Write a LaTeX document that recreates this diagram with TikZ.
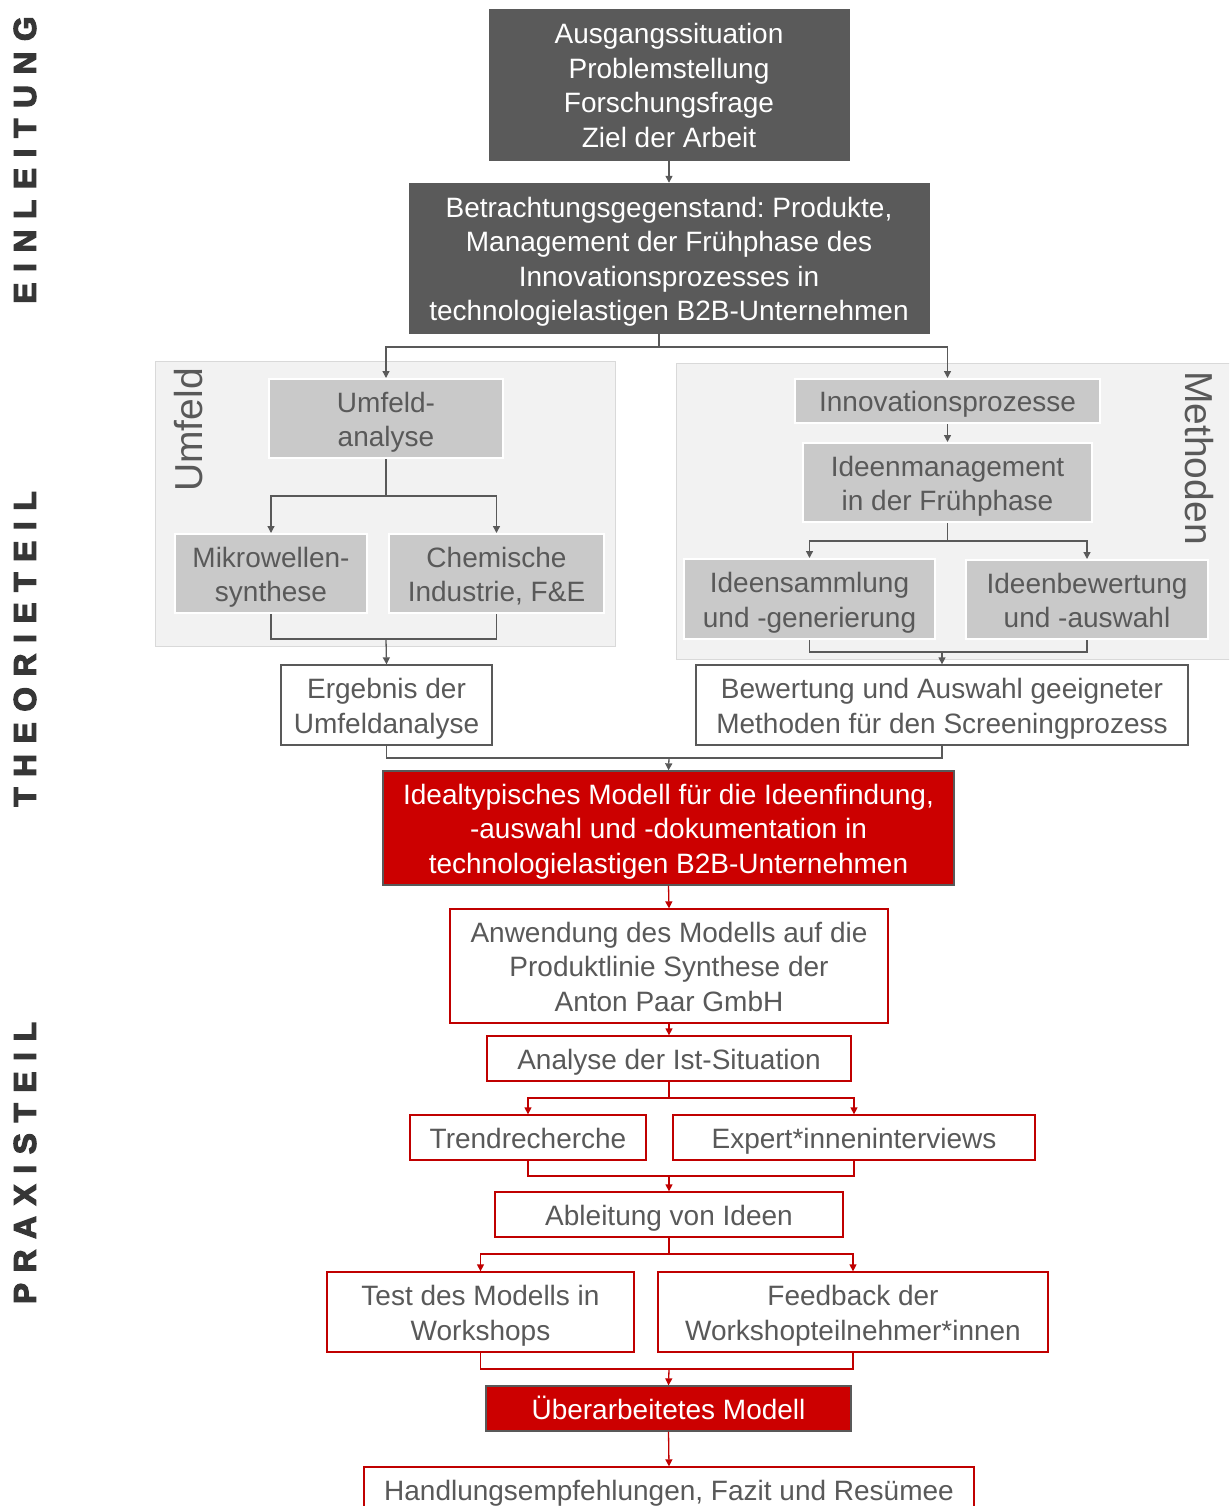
\documentclass[tikz,border=0pt]{standalone}
\usepackage{fontspec}
\setmainfont{Liberation Sans}
\frenchspacing
\usetikzlibrary{arrows.meta}
\definecolor{txtgray}{HTML}{595959}
\definecolor{darkfill}{HTML}{5A5A5A}
\definecolor{panelfill}{HTML}{F2F2F2}
\definecolor{panelline}{HTML}{D9D9D9}
\definecolor{greyfill}{HTML}{C9C9C9}
\definecolor{redfill}{HTML}{CC0000}
\definecolor{redline}{HTML}{C00000}
\definecolor{sidegray}{HTML}{363636}
% struts for the first and the last line of a box text, so that all texts sit alike
\newcommand\ts{\rule{0pt}{28.1pt}}
\newcommand\bs{\rule[-6.5pt]{0pt}{6.5pt}}
\tikzset{
  txt/.style={font=\fontsize{28}{34.5}\selectfont, align=center, inner sep=0pt, text=txtgray},
  darkbox/.style={txt, fill=darkfill, draw=darkfill, text=white},
  greybox/.style={txt, fill=greyfill, draw=white, line width=2pt},
  outbox/.style={txt, fill=white, draw=txtgray, line width=1.3pt},
  redout/.style={txt, fill=white, draw=redline, line width=1.3pt},
  redbox/.style={txt, fill=redfill, draw=txtgray, line width=1.3pt, text=white},
  panel/.style={fill=panelfill, draw=panelline, line width=1pt},
  panellabel/.style={font=\fontsize{39}{39}\selectfont, text=txtgray, inner sep=0pt},
  gline/.style={draw=txtgray, line width=1.3pt},
  garrow/.style={gline, -{Triangle[length=7pt,width=7pt]}},
  rline/.style={draw=redline, line width=1.3pt},
  rarrow/.style={rline, -{Triangle[length=7pt,width=7pt]}},
  sidelabel/.style={font=\fontsize{31.5}{31.5}\selectfont\bfseries\addfontfeatures{LetterSpace=34, FakeBold=4},
    text=sidegray, rotate=90, inner sep=0pt},
}
\begin{document}
\begin{tikzpicture}[x=1pt,y=-1pt]
\useasboundingbox (0,0) rectangle (1229,1506);
\clip (0,0) rectangle (1229,1506);

% section labels
\node[sidelabel] (sEin) at (25,160) {EINLEITUNG};
\node[sidelabel] (sTheo) at (25,649) {THEORIETEIL};
\node[sidelabel] (sPrax) at (25,1163) {PRAXISTEIL};

% introduction
\node[darkbox, minimum width=360, minimum height=151] (ausg) at (669,84.5)
  {\ts Ausgangssituation\\Problemstellung\\Forschungsfrage\\Ziel der Arbeit\bs};
\node[darkbox, minimum width=520, minimum height=150] (betr) at (669,258)
  {\ts Betrachtungsgegenstand: Produkte,\\Management der Frühphase des\\Innovationsprozesses in\\technologielastigen B2B-Unternehmen\bs};
\draw[garrow] (ausg.south) -- (betr.north);

% theory panels
\path[panel] (155,361) rectangle (615,646);
\path[panel] (676,363) rectangle (1240,659);
\node[panellabel, rotate=90] (lUmf) at (189,430) {Umfeld};
\node[panellabel, rotate=-90] (lMeth) at (1199,458) {Methoden};

\node[greybox, minimum width=234, minimum height=79] (umfa) at (386,418.5) {\ts Umfeld-\\analyse\bs};
\node[greybox, minimum width=192, minimum height=79] (mikro) at (271,573.5) {\ts Mikrowellen-\\synthese\bs};
\node[greybox, minimum width=215, minimum height=79] (chem) at (496.5,573.5) {\ts Chemische\\Industrie, F\&E\bs};

\node[greybox, minimum width=305, minimum height=44] (innov) at (947.5,401) {\ts Innovationsprozesse\bs};
\node[greybox, minimum width=289, minimum height=79] (ideenm) at (947.5,482.5) {\ts Ideenmanagement\\in der Frühphase\bs};
\node[greybox, minimum width=251, minimum height=80] (ideens) at (809.5,599) {\ts Ideensammlung\\und -generierung\bs};
\node[greybox, minimum width=242, minimum height=79] (ideenb) at (1087,599.5) {\ts Ideenbewertung\\und -auswahl\bs};

\node[outbox, minimum width=211, minimum height=80] (erg) at (386.5,705) {\ts Ergebnis der\\Umfeldanalyse\bs};
\node[outbox, minimum width=492, minimum height=80] (bew) at (942,705) {\ts Bewertung und Auswahl geeigneter\\Methoden für den Screeningprozess\bs};

% connectors of the theory part
\coordinate (jTop) at (659,347);
\draw[gline] ([xshift=-10pt]betr.south) -- (jTop);
\draw[garrow] (jTop) -| (umfa.north);
\draw[garrow] (jTop) -| (innov.north);

\coordinate (jUmf) at (386,496);
\draw[gline] (umfa.south) -- (jUmf);
\draw[garrow] (jUmf) -| (mikro.north);
\draw[garrow] (jUmf) -| (chem.north);
\coordinate (jUmfB) at (386,639);
\draw[gline] (mikro.south) |- (jUmfB) -| (chem.south);
\draw[garrow] (jUmfB) -- (erg.north);

\draw[garrow] (innov.south) -- (ideenm.north);
\coordinate (jMeth) at (947.5,541);
\draw[gline] (ideenm.south) -- (jMeth);
\draw[garrow] (jMeth) -| (ideens.north);
\draw[garrow] (jMeth) -| (ideenb.north);
\coordinate (jMethB) at (942,652);
\draw[gline] (ideens.south) |- (jMethB) -| (ideenb.south);
\draw[garrow] (jMethB) -- (bew.north);

% model
\node[redbox, minimum width=571, minimum height=114] (ideal) at (668.5,828)
  {\ts Idealtypisches Modell für die Ideenfindung,\\-auswahl und -dokumentation in\\technologielastigen B2B-Unternehmen\bs};
\coordinate (jRes) at (669,758);
\draw[gline] (erg.south) |- (jRes) -| (bew.south);
\draw[garrow] (jRes) -- (ideal.north);

% practical part
\node[redout, minimum width=438, minimum height=114] (anw) at (669,966)
  {\ts Anwendung des Modells auf die\\Produktlinie Synthese der\\Anton Paar GmbH\bs};
\node[redout, minimum width=364, minimum height=45] (ist) at (669,1058.5) {\ts Analyse der Ist-Situation\bs};
\node[redout, minimum width=236, minimum height=45] (trend) at (528,1137.5) {\ts Trendrecherche\bs};
\node[redout, minimum width=362, minimum height=45] (expert) at (854,1137.5) {\ts Expert*inneninterviews\bs};
\node[redout, minimum width=348, minimum height=45] (ableit) at (669,1214.5) {\ts Ableitung von Ideen\bs};
\node[redout, minimum width=307, minimum height=80] (test) at (480.5,1312) {\ts Test des Modells in\\Workshops\bs};
\node[redout, minimum width=390, minimum height=80] (feed) at (853,1312) {\ts Feedback der\\Workshopteilnehmer*innen\bs};
\node[redbox, minimum width=365, minimum height=45] (ueber) at (668.5,1408.5) {\ts Überarbeitetes Modell\bs};
\node[redout, minimum width=610, minimum height=46] (handl) at (669,1490) {\ts Handlungsempfehlungen, Fazit und Resümee\bs};

\draw[rarrow] (ideal.south) -- (anw.north);
\draw[rarrow] (anw.south) -- (ist.north);
\coordinate (jIst) at (669,1098);
\draw[rline] (ist.south) -- (jIst);
\draw[rarrow] (jIst) -| (trend.north);
\draw[rarrow] (jIst) -| (expert.north);
\coordinate (jAna) at (669,1176);
\draw[rline] (trend.south) |- (jAna) -| (expert.south);
\draw[rarrow] (jAna) -- (ableit.north);
\coordinate (jAbl) at (669,1254);
\draw[rline] (ableit.south) -- (jAbl);
\draw[rarrow] (jAbl) -| (test.north);
\draw[rarrow] (jAbl) -| (feed.north);
\coordinate (jWs) at (669,1369);
\draw[rline] (test.south) |- (jWs) -| (feed.south);
\draw[rarrow] (jWs) -- (ueber.north);
\draw[rarrow] (ueber.south) -- (handl.north);
\end{tikzpicture}
\end{document}
